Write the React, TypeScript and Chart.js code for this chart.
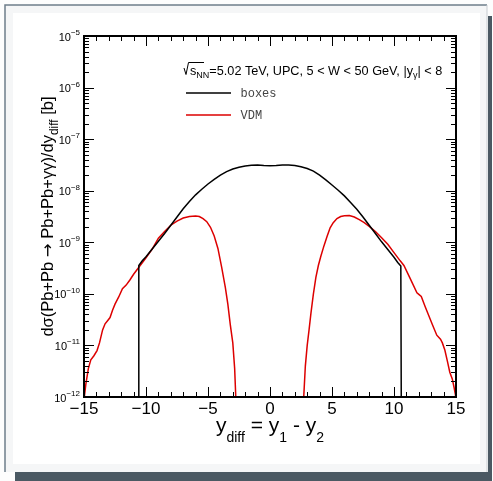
import React, { useEffect, useRef } from 'react';
import { Chart, registerables } from 'chart.js';

Chart.register(...registerables);

const W = 493;
const H = 481;

// "boxes" curve: rapidity difference and dσ/dy_diff [b]
const boxesX = [
  -10.62, -10.58, -10.3, -10.0, -9.5, -9.0, -8.5, -8.0, -7.5, -7.0, -6.5, -6.0, -5.5, -5.0,
  -4.5, -4.0, -3.5, -3.0, -2.5, -2.0, -1.5, -1.0, -0.5, 0, 0.5, 1.0, 1.5, 2.0, 2.5, 3.0, 3.5,
  4.0, 4.5, 5.0, 5.5, 6.0, 6.5, 7.0, 7.5, 8.0, 8.5, 9.0, 9.5, 10.0, 10.3, 10.55, 10.6,
];
const boxesY = [
  1e-13, 3.55e-10, 4.37e-10, 5.25e-10, 7.41e-10, 1.05e-9, 1.48e-9, 2.14e-9, 3.09e-9, 4.47e-9,
  6.17e-9, 8.32e-9, 1.07e-8, 1.35e-8, 1.66e-8, 2.0e-8, 2.34e-8, 2.63e-8, 2.85e-8, 3.02e-8,
  3.13e-8, 3.16e-8, 3.09e-8, 3.05e-8, 3.09e-8, 3.16e-8, 3.16e-8, 3.09e-8, 2.92e-8, 2.69e-8,
  2.4e-8, 2.0e-8, 1.62e-8, 1.29e-8, 1.02e-8, 7.94e-9, 5.89e-9, 4.37e-9, 3.09e-9, 2.14e-9,
  1.48e-9, 1.02e-9, 7.24e-10, 5.13e-10, 4.07e-10, 3.47e-10, 1e-13,
];

// "VDM" curve: two lobes, nothing above 1e-12 in between
const vdmX = [
  -15.0, -14.85, -14.65, -14.45, -14.2, -13.95, -13.75, -13.5, -13.3, -13.1, -12.9, -12.7,
  -12.5, -12.2, -11.9, -11.6, -11.3, -11.0, -10.5, -10.0, -9.5, -9.0, -8.5, -8.0, -7.5, -7.0,
  -6.5, -6.0, -5.7, -5.4, -5.1, -4.8, -4.5, -4.2, -3.9, -3.6, -3.4, -3.2, -3.0, -2.85, -2.76,
  -2.72, 0, 2.68, 2.72, 2.85, 3.0, 3.15, 3.3, 3.5, 3.7, 3.9, 4.1, 4.35, 4.6, 4.85, 5.1, 5.4,
  5.7, 6.0, 6.4, 6.8, 7.2, 7.6, 8.0, 8.5, 9.0, 9.5, 10.0, 10.5, 10.8, 11.3, 11.85, 12.0, 12.2,
  12.5, 12.8, 13.1, 13.45, 13.75, 13.9, 14.1, 14.3, 14.5, 14.7, 14.85, 14.95, 15.0,
];
const vdmY = [
  8.91e-13, 1.78e-12, 3.55e-12, 5.25e-12, 6.31e-12, 7.94e-12, 1.12e-11, 2.0e-11, 2.63e-11,
  3.02e-11, 3.47e-11, 4.79e-11, 6.31e-11, 8.71e-11, 1.26e-10, 1.48e-10, 1.86e-10, 2.4e-10,
  3.47e-10, 5.01e-10, 7.41e-10, 1.2e-9, 1.62e-9, 2.14e-9, 2.57e-9, 2.95e-9, 3.16e-9, 3.24e-9,
  3.16e-9, 2.88e-9, 2.51e-9, 1.95e-9, 1.32e-9, 7.59e-10, 3.31e-10, 1.32e-10, 6.31e-11,
  2.51e-11, 1.12e-11, 3.55e-12, 1e-12, 5e-13, null, 5e-13, 1e-12, 3.98e-12, 1e-11, 2e-11,
  4.17e-11, 1e-10, 2.09e-10, 3.55e-10, 5.37e-10, 8.51e-10, 1.29e-9, 1.91e-9, 2.4e-9, 2.88e-9,
  3.16e-9, 3.27e-9, 3.31e-9, 3.09e-9, 2.75e-9, 2.4e-9, 2.04e-9, 1.62e-9, 1.23e-9, 9.12e-10,
  6.31e-10, 4.37e-10, 3.55e-10, 2.0e-10, 1.05e-10, 9.77e-11, 8.91e-11, 5.75e-11, 3.8e-11,
  2.51e-11, 1.58e-11, 1.32e-11, 1.12e-11, 8.13e-12, 5.01e-12, 3.02e-12, 2.24e-12, 1.51e-12,
  1.12e-12, 8.91e-13,
];

const xMin = -15;
const xMax = 15;
const xLabelTicks = [-15, -10, -5, 0, 5, 10, 15];
const yMin = 1e-12;
const yMax = 1e-5;
const yDecadeExponents = [-12, -11, -10, -9, -8, -7, -6, -5];

const seriesNames = ['boxes', 'VDM'];
const seriesColors = ['#000000', '#dd0000'];

const SANS = '"Liberation Sans", Arial, Helvetica, sans-serif';
const DEJAVU = '"DejaVu Sans", sans-serif';
const MONO = '"Liberation Mono", "Courier New", monospace';

const toPoints = (xs: number[], ys: (number | null)[]) =>
  xs.map((x, i) => ({ x, y: ys[i] }));

type Run = { text: string; size: number; dy: number; family?: string };

function drawRuns(ctx: CanvasRenderingContext2D, runs: Run[], x: number, y: number, align: 'left' | 'center') {
  const fontOf = (r: Run) => `${r.size}px ${r.family || SANS}`;
  let total = 0;
  for (const r of runs) {
    ctx.font = fontOf(r);
    total += ctx.measureText(r.text).width;
  }
  let cx = align === 'center' ? x - total / 2 : x;
  ctx.textAlign = 'left';
  ctx.textBaseline = 'alphabetic';
  for (const r of runs) {
    ctx.font = fontOf(r);
    ctx.fillText(r.text, cx, y + r.dy);
    cx += ctx.measureText(r.text).width;
  }
  return total;
}

const rootStylePlugin = {
  id: 'rootStyle',
  beforeDraw(chart: any) {
    const ctx: CanvasRenderingContext2D = chart.ctx;
    ctx.save();
    ctx.fillStyle = '#fdfdfd';
    ctx.fillRect(0, 0, W, H);
    ctx.fillStyle = '#f5f6f7';
    ctx.fillRect(5, 5, 482, 467);
    ctx.fillStyle = '#ffffff';
    ctx.fillRect(13, 13, 467, 451);
    // pad border
    ctx.strokeStyle = '#6e7e8a';
    ctx.lineWidth = 1.5;
    ctx.beginPath();
    ctx.moveTo(5, 472);
    ctx.lineTo(5, 5);
    ctx.lineTo(487, 5);
    ctx.stroke();
    ctx.strokeStyle = '#c8cdd1';
    ctx.lineWidth = 1;
    ctx.beginPath();
    ctx.moveTo(487, 5);
    ctx.lineTo(487, 472);
    ctx.stroke();
    // pad shadow
    ctx.fillStyle = '#4b5963';
    ctx.fillRect(488, 16, 4, 465);
    ctx.fillRect(15, 472, 477, 9);
    ctx.restore();
  },
  afterDatasetsDraw(chart: any) {
    const ctx: CanvasRenderingContext2D = chart.ctx;
    const xs = chart.scales.x;
    const ys = chart.scales.y;
    const { left, right, top, bottom } = chart.chartArea;
    ctx.save();

    // frame
    ctx.strokeStyle = '#000';
    ctx.lineWidth = 2;
    ctx.strokeRect(left, top, right - left, bottom - top);

    // x ticks (bottom and top, pointing inwards)
    ctx.lineWidth = 1;
    ctx.beginPath();
    for (let v = xMin; v <= xMax; v++) {
      const px = Math.round(xs.getPixelForValue(v)) + 0.5;
      const len = v % 5 === 0 ? 10 : 5;
      ctx.moveTo(px, bottom);
      ctx.lineTo(px, bottom - len);
      ctx.moveTo(px, top);
      ctx.lineTo(px, top + len);
    }
    // y ticks (left and right, pointing inwards)
    for (const e of yDecadeExponents) {
      for (let m = 1; m <= 9; m++) {
        const v = m * Math.pow(10, e);
        if (v > yMax * 1.0001) break;
        const py = Math.round(ys.getPixelForValue(v)) + 0.5;
        const len = m === 1 ? 10 : 5;
        ctx.moveTo(left, py);
        ctx.lineTo(left + len, py);
        ctx.moveTo(right, py);
        ctx.lineTo(right - len, py);
      }
    }
    ctx.stroke();

    ctx.fillStyle = '#000';
    // x tick labels
    ctx.font = `17px ${SANS}`;
    ctx.textAlign = 'center';
    ctx.textBaseline = 'alphabetic';
    for (const v of xLabelTicks) {
      const label = v < 0 ? '\u2212' + Math.abs(v) : String(v);
      ctx.fillText(label, xs.getPixelForValue(v), 414);
    }

    // y tick labels: 10^e
    for (const e of yDecadeExponents) {
      const py = ys.getPixelForValue(Math.pow(10, e));
      const sup = '\u2212' + Math.abs(e);
      ctx.textAlign = 'right';
      ctx.font = `8px ${SANS}`;
      const supW = ctx.measureText(sup).width;
      ctx.fillText(sup, 80, py - 1);
      ctx.font = `11px ${SANS}`;
      ctx.fillText('10', 80 - supW, py + 4.5);
    }

    // x axis title
    drawRuns(
      ctx,
      [
        { text: 'y', size: 21, dy: 0 },
        { text: 'diff', size: 14, dy: 10 },
        { text: ' = y', size: 21, dy: 0 },
        { text: '1', size: 14, dy: 10 },
        { text: ' - y', size: 21, dy: 0 },
        { text: '2', size: 14, dy: 10 },
      ],
      (left + right) / 2,
      432,
      'center'
    );

    // y axis title (rotated)
    ctx.save();
    ctx.translate(53, (top + bottom) / 2);
    ctx.rotate(-Math.PI / 2);
    drawRuns(
      ctx,
      [
        { text: 'd\u03c3(Pb+Pb ', size: 16.5, dy: 0 },
        { text: '\u2192', size: 16.5, dy: 0, family: DEJAVU },
        { text: ' Pb+Pb+\u03b3\u03b3)/dy', size: 16.5, dy: 0 },
        { text: 'diff', size: 12, dy: 5 },
        { text: ' [b]', size: 16.5, dy: 0 },
      ],
      0,
      0,
      'center'
    );
    ctx.restore();

    // legend header with sqrt sign
    ctx.strokeStyle = '#000';
    ctx.lineWidth = 1;
    ctx.beginPath();
    ctx.moveTo(184, 68);
    ctx.lineTo(186, 74.5);
    ctx.lineTo(188.5, 62.5);
    ctx.lineTo(204, 62.5);
    ctx.stroke();
    drawRuns(
      ctx,
      [
        { text: 's', size: 12.7, dy: 0 },
        { text: 'NN', size: 9, dy: 3 },
        { text: '=5.02 TeV, UPC, 5 < W < 50 GeV, |y', size: 12.7, dy: 0 },
        { text: '\u03b3', size: 9, dy: 3 },
        { text: '| < 8', size: 12.7, dy: 0 },
      ],
      190,
      75,
      'left'
    );

    // legend entries
    const entryY = [93, 115];
    seriesNames.forEach((name, i) => {
      ctx.strokeStyle = seriesColors[i];
      ctx.lineWidth = 1.5;
      ctx.beginPath();
      ctx.moveTo(186, entryY[i]);
      ctx.lineTo(231, entryY[i]);
      ctx.stroke();
      ctx.fillStyle = '#444';
      ctx.font = `12px ${MONO}`;
      ctx.textAlign = 'left';
      ctx.textBaseline = 'middle';
      ctx.fillText(name, 240.5, entryY[i] + 0.5);
    });

    ctx.restore();
  },
};

export default function App() {
  const canvasRef = useRef<HTMLCanvasElement>(null);

  useEffect(() => {
    const canvas = canvasRef.current;
    if (!canvas) return;
    const chart = new Chart(canvas, {
      type: 'scatter',
      data: {
        datasets: [
          {
            label: seriesNames[0],
            data: toPoints(boxesX, boxesY),
            showLine: true,
            borderColor: seriesColors[0],
            borderWidth: 1.5,
            pointRadius: 0,
            tension: 0,
            spanGaps: false,
            clip: 1,
          },
          {
            label: seriesNames[1],
            data: toPoints(vdmX, vdmY),
            showLine: true,
            borderColor: seriesColors[1],
            borderWidth: 1.5,
            pointRadius: 0,
            tension: 0,
            spanGaps: false,
            clip: 1,
          },
        ],
      },
      options: {
        animation: false,
        responsive: false,
        devicePixelRatio: 1,
        layout: { padding: { left: 84, right: 37, top: 36, bottom: 84 } },
        scales: {
          x: { type: 'linear', min: xMin, max: xMax, display: false },
          y: { type: 'logarithmic', min: yMin, max: yMax, display: false },
        },
        plugins: {
          legend: { display: false },
          tooltip: { enabled: false },
        },
      },
      plugins: [rootStylePlugin],
    } as any);
    return () => chart.destroy();
  }, []);

  return (
    <div style={{ position: 'fixed', left: 0, top: 0, width: W, height: H }}>
      <canvas ref={canvasRef} width={W} height={H} style={{ display: 'block', width: W, height: H }} />
    </div>
  );
}
